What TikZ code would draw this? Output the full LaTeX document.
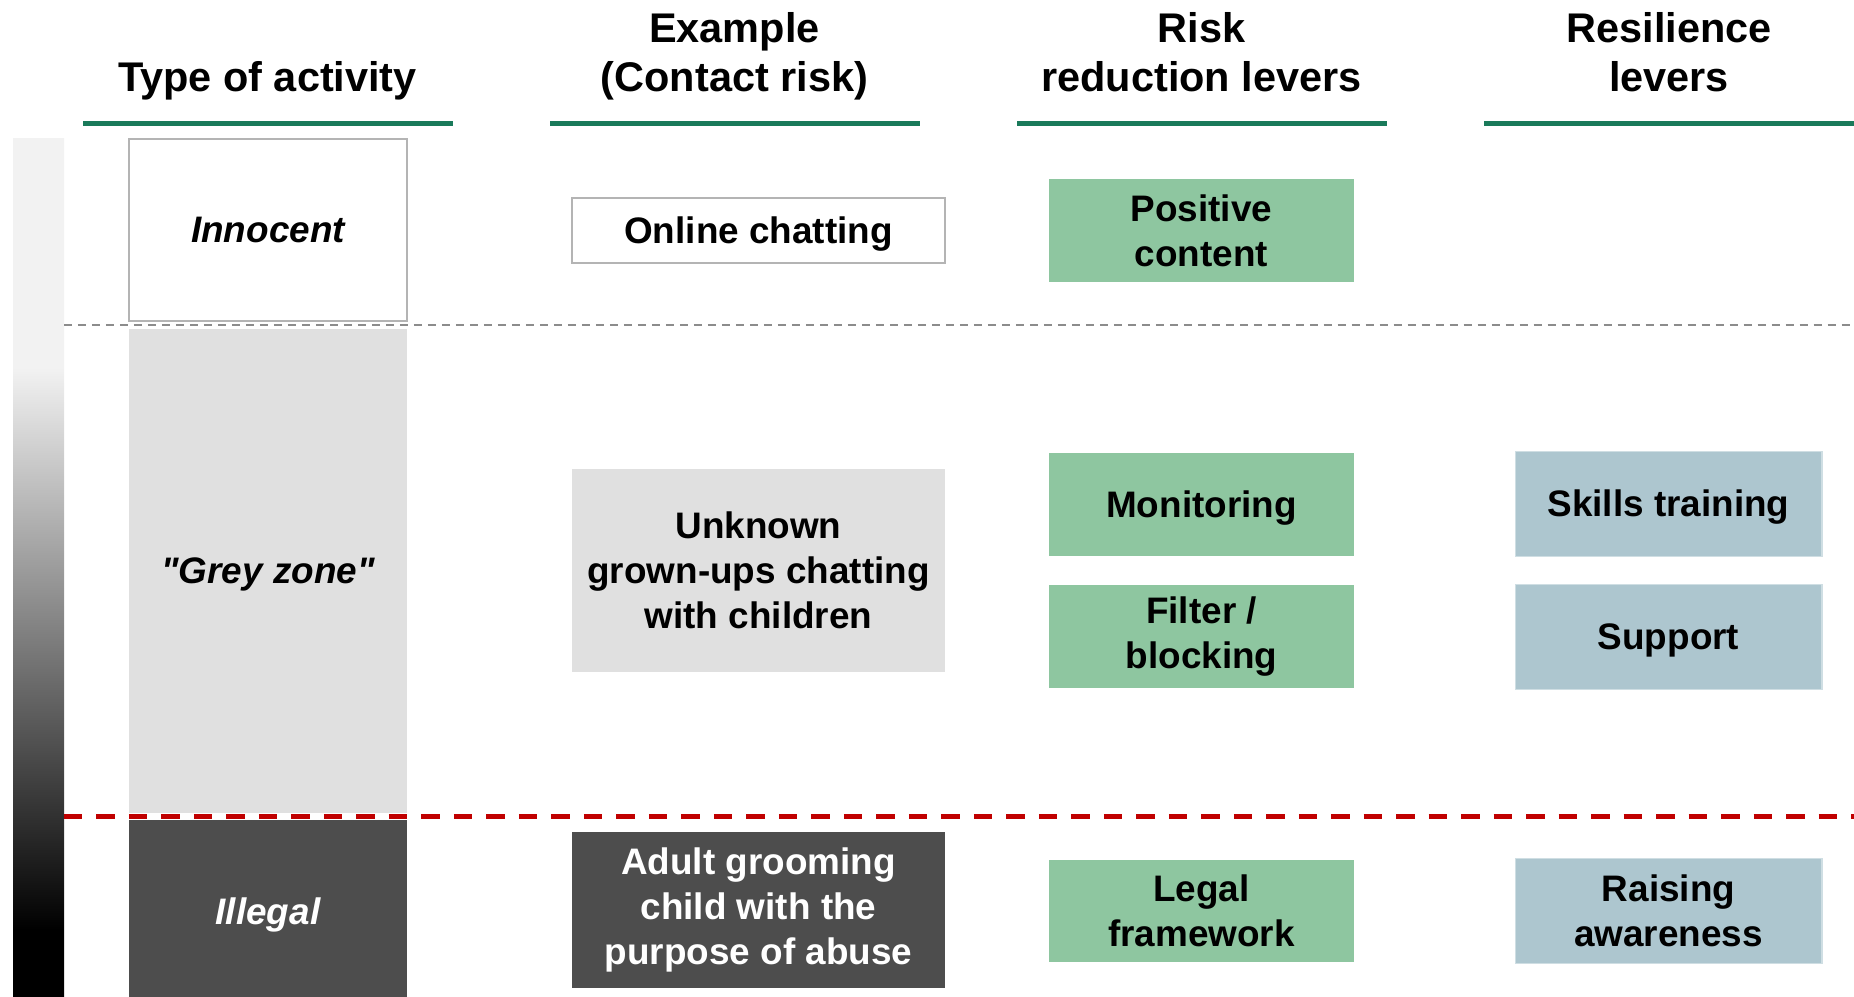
\documentclass[tikz,border=0pt]{standalone}
\usepackage{fontspec}
\setmainfont{Liberation Sans}

\pgfdeclareverticalshading{riskbar}{100bp}{color(0bp)=(black); color(28.9bp)=(black); color(61.7bp)=(black!5); color(100bp)=(black!5)}

\tikzset{
  colhead/.style={font=\fontsize{23.6}{28.4}\selectfont\bfseries, align=center, anchor=base},
  cell/.style={inner sep=0pt, align=center, font=\fontsize{21}{25.6}\selectfont\bfseries},
  oneline/.style={text height=0.67cm, text depth=0.157cm},
  activity/.style={cell, minimum width=5.56cm},
  example/.style={cell, minimum width=7.46cm},
  riskbox/.style={cell, fill=riskfill, minimum width=6.1cm, minimum height=2.06cm},
  resbox/.style={cell, fill=resfill, draw=resline, line width=0.6pt, minimum width=6.14cm, minimum height=2.1cm}
}

\begin{document}
\begin{tikzpicture}[x=0.02cm, y=-0.02cm]

    \definecolor{headcolor}{HTML}{1A7A5A}
    \definecolor{riskfill}{HTML}{8EC6A0}
    \definecolor{resfill}{HTML}{ADC6CF}
    \definecolor{resline}{HTML}{CFDEE3}
    \definecolor{boxline}{HTML}{B4B4B4}
    \definecolor{lightbox}{HTML}{E0E0E0}
    \definecolor{darkbox}{HTML}{4D4D4D}
    \definecolor{legalline}{HTML}{C00000}
    \colorlet{zoneline}{black!45}

    \useasboundingbox (0,0) rectangle (1854,997);

    % column heads
    \node[colhead] (typehead) at (267.5,92) {Type of activity};
    \node[colhead] (examplehead) at (734.5,92) {Example\\(Contact risk)};
    \node[colhead] (riskhead) at (1201.5,92) {Risk\\reduction levers};
    \node[colhead] (reshead) at (1669,92) {Resilience\\levers};

    \foreach \x in {83,550,1017,1484}
      \draw[headcolor,line width=0.1cm] (\x,123.5) -- +(370,0);

    % scale from innocent to illegal
    \shade[shading=riskbar] (13,139) rectangle (64,997);

    % type of activity
    \node[activity, oneline, fill=white, draw=boxline, line width=1.1pt, minimum height=3.64cm]
      (innocent) at (268,230) {\itshape Innocent};
    \node[activity, oneline, fill=lightbox, minimum height=9.68cm]
      (greyzone) at (268,571) {\itshape \textquotedbl Grey zone\textquotedbl};
    \node[activity, oneline, fill=darkbox, text=white, minimum height=3.68cm]
      (illegal) at (268,912) {\itshape Illegal};

    % example
    \node[example, oneline, fill=white, draw=boxline, line width=1.1pt, minimum height=1.3cm]
      (online) at (758.5,230.5) {Online chatting};
    \node[example, fill=lightbox, minimum height=4.06cm]
      (unknown) at (758.5,570.5) {Unknown\\grown-ups chatting\\with children};
    \node[example, fill=darkbox, text=white, minimum height=3.13cm]
      (grooming) at (758.5,910) {Adult grooming\\child with the\\purpose of abuse};

    % risk reduction levers
    \node[riskbox] (positive) at (1201.5,230.5) {Positive\\content};
    \node[riskbox, oneline] (monitoring) at (1201.5,504.5) {Monitoring};
    \node[riskbox] (filter) at (1201.5,636.5) {Filter /\\blocking};
    \node[riskbox] (legal) at (1201.5,911) {Legal\\framework};

    % resilience levers
    \node[resbox, oneline] (skills) at (1668.5,504) {Skills training};
    \node[resbox, oneline] (support) at (1668.5,636.75) {Support};
    \node[resbox] (raising) at (1668.5,910.7) {Raising\\awareness};

    % borders between the zones
    \draw[zoneline, line width=0.04cm, dash pattern=on 0.16cm off 0.12cm] (64,324.5) -- (1854,324.5);
    \draw[legalline, line width=0.1cm, dash pattern=on 0.37cm off 0.28cm] (64,816) -- (1854,816);

\end{tikzpicture}
\end{document}
